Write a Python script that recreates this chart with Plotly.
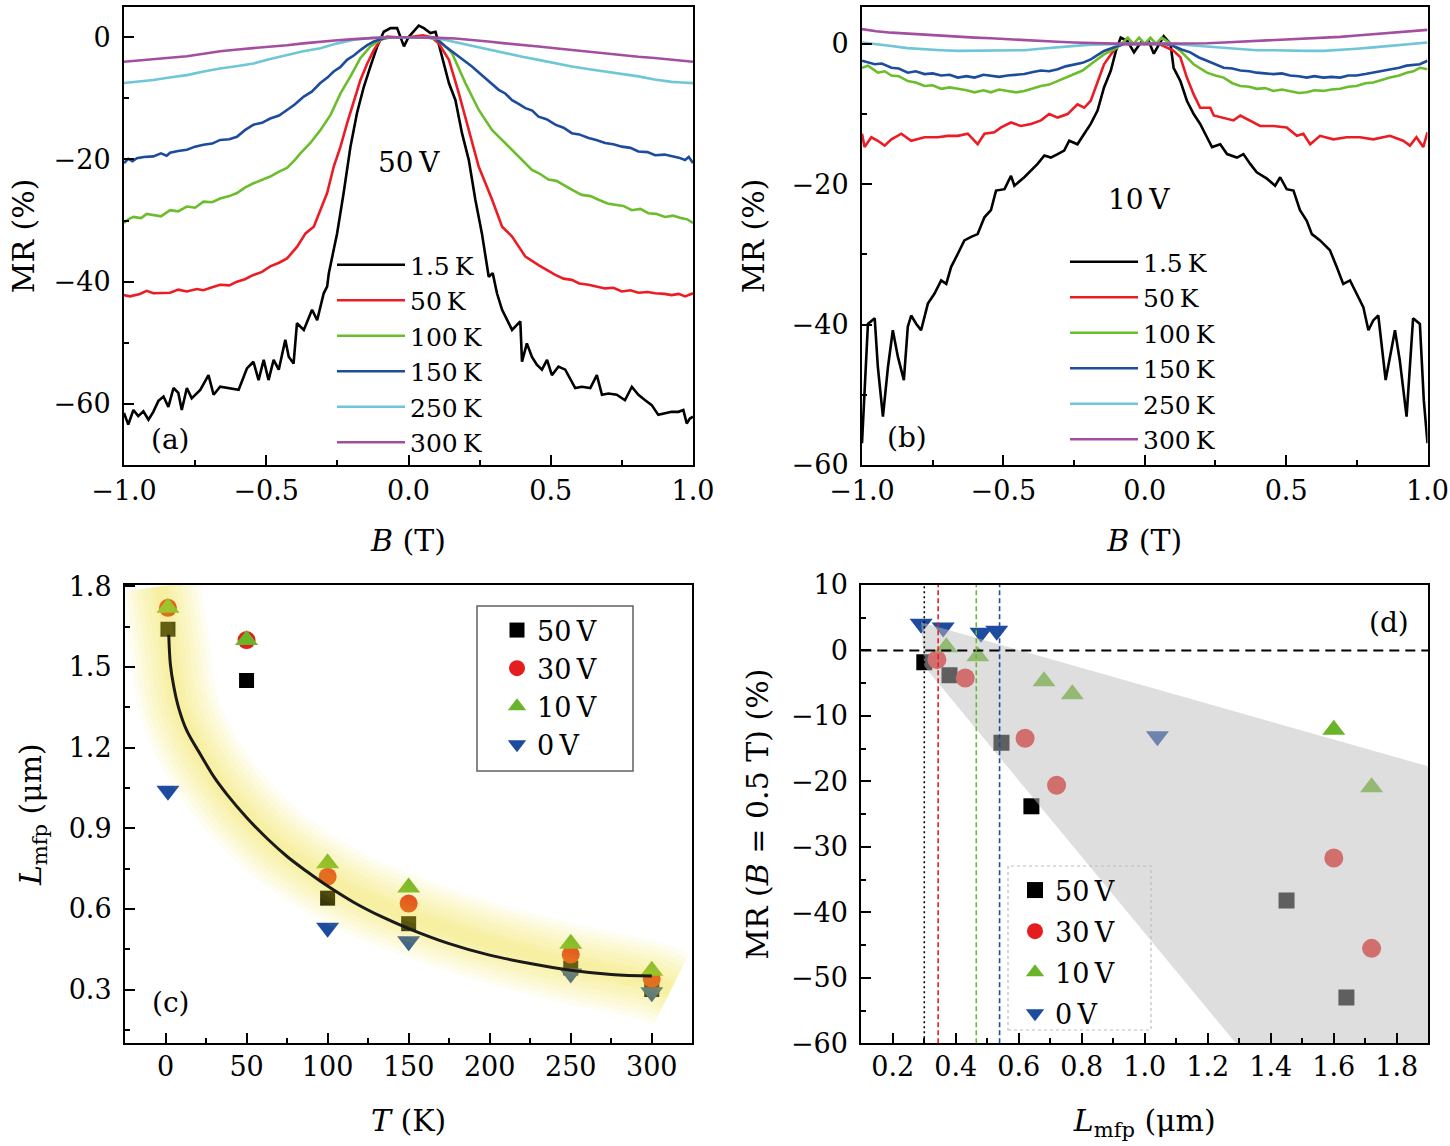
import plotly.graph_objects as go

# ---------------- data: panel (a) 50 V, MR vs B ----------------
a_1p5K = [(-1.0,-61.5),(-0.985,-63.4),(-0.967,-61.0),(-0.95,-62.0),(-0.932,-61.2),(-0.914,-62.6),(-0.897,-61.3),(-0.879,-59.5),(-0.861,-58.8),(-0.844,-60.5),(-0.826,-57.4),(-0.809,-58.2),(-0.797,-61.0),(-0.779,-57.4),(-0.762,-59.1),(-0.732,-57.7),(-0.703,-55.3),(-0.685,-58.5),(-0.662,-57.2),(-0.638,-57.4),(-0.597,-57.7),(-0.568,-54.2),(-0.545,-53.1),(-0.527,-56.1),(-0.509,-52.8),(-0.492,-56.1),(-0.474,-52.8),(-0.456,-54.4),(-0.433,-49.5),(-0.421,-52.3),(-0.404,-53.4),(-0.392,-46.8),(-0.368,-47.9),(-0.339,-44.6),(-0.321,-46.3),(-0.298,-41.9),(-0.286,-40.8),(-0.28,-38.6),(-0.251,-32.1),(-0.228,-25.5),(-0.204,-17.9),(-0.181,-12.4),(-0.157,-8.1),(-0.134,-4.8),(-0.11,-1.5),(-0.087,0.9),(-0.063,1.5),(-0.04,1.5),(-0.016,-1.5),(0.0,0.0),(0.013,0.7),(0.036,1.9),(0.054,1.5),(0.077,0.7),(0.095,0.9),(0.118,-3.2),(0.142,-7.5),(0.165,-10.3),(0.188,-15.7),(0.212,-20.1),(0.235,-26.6),(0.258,-32.1),(0.282,-39.2),(0.296,-38.6),(0.311,-41.9),(0.329,-44.6),(0.34,-45.7),(0.364,-47.9),(0.393,-46.5),(0.399,-53.1),(0.416,-50.1),(0.434,-52.3),(0.451,-53.6),(0.469,-54.4),(0.487,-52.8),(0.504,-55.3),(0.527,-53.9),(0.551,-54.4),(0.586,-57.4),(0.609,-57.2),(0.639,-57.4),(0.662,-55.3),(0.68,-58.5),(0.703,-58.3),(0.732,-58.5),(0.761,-59.4),(0.785,-57.2),(0.808,-58.5),(0.832,-59.4),(0.855,-60.2),(0.878,-61.8),(0.902,-61.5),(0.925,-61.3),(0.949,-61.3),(0.966,-61.0),(0.978,-63.2),(0.989,-62.4),(1.0,-62.1)]
a_50K = [(-1.0,-42.2),(-0.979,-42.4),(-0.944,-42.0),(-0.92,-41.5),(-0.897,-41.9),(-0.838,-41.8),(-0.809,-41.3),(-0.779,-41.6),(-0.744,-41.2),(-0.721,-41.4),(-0.69,-40.9),(-0.662,-40.5),(-0.63,-40.6),(-0.603,-40.0),(-0.575,-39.6),(-0.545,-38.9),(-0.515,-38.4),(-0.486,-37.5),(-0.455,-36.9),(-0.427,-36.2),(-0.392,-34.3),(-0.362,-32.1),(-0.333,-31.0),(-0.31,-28.3),(-0.286,-25.5),(-0.263,-21.2),(-0.239,-17.9),(-0.216,-14.1),(-0.192,-10.3),(-0.169,-7.0),(-0.145,-4.3),(-0.122,-2.1),(-0.098,-0.4),(-0.075,0.1),(-0.04,0.0),(0.0,0.0),(0.05,0.3),(0.08,0.0),(0.106,-1.0),(0.142,-3.7),(0.177,-9.2),(0.212,-15.2),(0.247,-21.2),(0.294,-26.6),(0.329,-31.0),(0.364,-32.6),(0.411,-35.9),(0.457,-37.3),(0.516,-38.9),(0.545,-39.5),(0.574,-39.7),(0.6,-40.3),(0.633,-40.5),(0.66,-40.8),(0.691,-41.1),(0.72,-41.0),(0.75,-41.6),(0.78,-41.4),(0.808,-41.8),(0.84,-41.7),(0.867,-41.9),(0.9,-42.0),(0.925,-42.2),(0.95,-42.0),(0.972,-42.4),(1.0,-41.9)]
a_100K = [(-1.0,-30.4),(-0.985,-29.8),(-0.967,-29.4),(-0.94,-29.6),(-0.92,-28.9),(-0.897,-29.1),(-0.87,-29.3),(-0.838,-28.3),(-0.81,-28.5),(-0.779,-27.7),(-0.75,-27.9),(-0.721,-26.9),(-0.69,-27.0),(-0.662,-26.4),(-0.63,-26.0),(-0.603,-25.5),(-0.575,-24.6),(-0.545,-23.9),(-0.515,-23.3),(-0.486,-22.8),(-0.455,-22.0),(-0.427,-21.4),(-0.40,-20.1),(-0.38,-19.0),(-0.345,-17.3),(-0.31,-15.2),(-0.274,-12.7),(-0.239,-9.2),(-0.204,-6.4),(-0.169,-3.4),(-0.134,-1.5),(-0.098,-0.4),(-0.063,0.0),(0.0,0.0),(0.06,0.0),(0.106,-0.4),(0.153,-2.6),(0.2,-7.5),(0.247,-11.9),(0.294,-15.2),(0.34,-17.3),(0.387,-19.5),(0.434,-21.7),(0.46,-22.3),(0.492,-23.3),(0.52,-23.5),(0.551,-24.4),(0.58,-25.1),(0.609,-25.8),(0.64,-26.0),(0.668,-26.6),(0.7,-27.2),(0.726,-27.4),(0.755,-27.6),(0.785,-28.3),(0.815,-28.1),(0.843,-28.8),(0.87,-28.9),(0.902,-29.4),(0.93,-29.2),(0.96,-29.6),(0.98,-29.8),(1.0,-30.4)]
a_150K = [(-1.0,-20.6),(-0.985,-19.9),(-0.97,-20.3),(-0.955,-19.8),(-0.93,-19.6),(-0.897,-19.5),(-0.87,-19.0),(-0.85,-19.4),(-0.838,-18.9),(-0.81,-18.6),(-0.779,-18.4),(-0.75,-17.9),(-0.721,-17.6),(-0.69,-17.4),(-0.662,-16.8),(-0.63,-16.7),(-0.603,-16.3),(-0.575,-15.2),(-0.545,-14.3),(-0.515,-14.0),(-0.486,-13.3),(-0.455,-12.8),(-0.427,-11.9),(-0.40,-11.0),(-0.368,-9.7),(-0.34,-8.9),(-0.31,-7.5),(-0.285,-6.6),(-0.263,-5.6),(-0.24,-4.9),(-0.216,-3.7),(-0.19,-2.9),(-0.169,-2.1),(-0.145,-1.3),(-0.122,-0.7),(-0.075,0.0),(0.0,0.0),(0.09,0.0),(0.13,-1.5),(0.155,-2.4),(0.177,-3.2),(0.2,-3.9),(0.223,-4.8),(0.245,-5.7),(0.27,-6.7),(0.295,-7.8),(0.317,-8.6),(0.34,-9.2),(0.364,-10.3),(0.387,-10.9),(0.411,-11.6),(0.435,-12.0),(0.457,-13.0),(0.485,-13.4),(0.516,-14.3),(0.545,-14.8),(0.574,-15.7),(0.6,-15.9),(0.633,-16.5),(0.66,-16.8),(0.691,-17.3),(0.72,-17.5),(0.75,-17.9),(0.78,-18.1),(0.808,-18.7),(0.84,-18.8),(0.867,-19.3),(0.9,-19.2),(0.925,-19.5),(0.95,-19.7),(0.972,-20.1),(0.985,-19.6),(1.0,-20.6)]
a_250K = [(-1.0,-7.5),(-0.95,-7.3),(-0.897,-7.0),(-0.84,-6.6),(-0.779,-6.2),(-0.72,-5.6),(-0.662,-5.1),(-0.6,-4.7),(-0.545,-4.3),(-0.49,-3.6),(-0.427,-2.9),(-0.37,-2.3),(-0.31,-1.8),(-0.25,-1.0),(-0.192,-0.4),(-0.13,-0.1),(-0.075,0.0),(0.0,0.0),(0.05,0.0),(0.106,-0.2),(0.165,-0.8),(0.223,-1.5),(0.28,-2.0),(0.34,-2.6),(0.4,-3.2),(0.457,-3.7),(0.515,-4.3),(0.574,-4.8),(0.63,-5.2),(0.691,-5.6),(0.75,-6.0),(0.808,-6.4),(0.865,-6.9),(0.925,-7.3),(0.96,-7.4),(1.0,-7.5)]
a_300K = [(-1.0,-4.0),(-0.95,-3.8),(-0.897,-3.6),(-0.84,-3.4),(-0.779,-3.1),(-0.72,-2.7),(-0.662,-2.3),(-0.6,-2.0),(-0.545,-1.8),(-0.49,-1.5),(-0.427,-1.3),(-0.37,-1.0),(-0.31,-0.7),(-0.25,-0.5),(-0.192,-0.3),(-0.13,-0.1),(-0.075,0.0),(0.0,0.0),(0.05,0.0),(0.106,-0.1),(0.165,-0.2),(0.223,-0.4),(0.28,-0.7),(0.34,-1.0),(0.4,-1.2),(0.457,-1.5),(0.515,-1.8),(0.574,-2.1),(0.63,-2.3),(0.691,-2.6),(0.75,-2.9),(0.808,-3.2),(0.865,-3.4),(0.925,-3.7),(0.96,-3.8),(1.0,-4.0)]

# ---------------- data: panel (b) 10 V, MR vs B ----------------
b_1p5K = [(-1.0,-56.9),(-0.993,-50.8),(-0.979,-39.9),(-0.955,-39.1),(-0.944,-46.0),(-0.926,-53.1),(-0.908,-46.0),(-0.891,-40.8),(-0.873,-44.6),(-0.852,-47.9),(-0.838,-40.3),(-0.826,-38.7),(-0.808,-39.9),(-0.791,-40.8),(-0.767,-37.0),(-0.744,-35.6),(-0.72,-33.7),(-0.702,-34.2),(-0.685,-31.8),(-0.661,-29.9),(-0.638,-28.0),(-0.614,-27.5),(-0.591,-27.1),(-0.567,-24.7),(-0.544,-23.7),(-0.526,-20.9),(-0.496,-20.7),(-0.473,-18.8),(-0.461,-20.2),(-0.426,-19.0),(-0.402,-18.1),(-0.379,-17.1),(-0.355,-15.9),(-0.332,-16.2),(-0.308,-15.7),(-0.285,-15.2),(-0.267,-13.8),(-0.238,-14.3),(-0.214,-12.8),(-0.191,-11.4),(-0.167,-9.5),(-0.144,-6.2),(-0.12,-3.8),(-0.102,-1.0),(-0.085,0.9),(-0.061,0.4),(-0.038,-1.2),(-0.014,0.2),(0.0,0.0),(0.015,0.3),(0.032,-1.4),(0.05,0.0),(0.067,1.1),(0.091,0.0),(0.102,-3.4),(0.126,-5.3),(0.149,-8.1),(0.173,-10.0),(0.196,-11.4),(0.22,-13.3),(0.238,-14.7),(0.267,-14.3),(0.291,-15.7),(0.326,-16.2),(0.349,-15.7),(0.373,-17.1),(0.396,-18.3),(0.432,-19.2),(0.461,-20.2),(0.479,-19.0),(0.502,-20.7),(0.526,-20.9),(0.549,-23.7),(0.573,-25.2),(0.591,-27.1),(0.62,-28.0),(0.655,-29.4),(0.679,-31.8),(0.702,-34.2),(0.726,-33.7),(0.749,-35.6),(0.773,-37.5),(0.791,-40.8),(0.808,-39.4),(0.826,-38.7),(0.852,-47.9),(0.885,-40.8),(0.902,-45.1),(0.926,-53.1),(0.949,-39.1),(0.973,-39.9),(0.987,-50.8),(1.0,-56.9)]
b_50K = [(-1.0,-12.8),(-0.991,-14.7),(-0.967,-13.3),(-0.944,-13.8),(-0.92,-14.5),(-0.896,-13.6),(-0.861,-12.8),(-0.826,-13.8),(-0.779,-13.3),(-0.732,-13.3),(-0.696,-13.1),(-0.661,-13.1),(-0.626,-12.8),(-0.591,-14.3),(-0.567,-12.8),(-0.532,-12.6),(-0.508,-11.9),(-0.473,-11.2),(-0.438,-11.7),(-0.402,-11.4),(-0.367,-10.9),(-0.338,-10.0),(-0.308,-10.5),(-0.273,-10.0),(-0.238,-8.6),(-0.214,-9.1),(-0.191,-8.1),(-0.167,-5.3),(-0.144,-2.9),(-0.12,-1.5),(-0.096,-0.3),(-0.073,0.0),(0.0,0.0),(0.05,0.0),(0.102,-1.0),(0.126,-1.9),(0.149,-4.8),(0.173,-7.2),(0.196,-9.1),(0.232,-9.1),(0.244,-10.2),(0.279,-10.5),(0.314,-10.9),(0.338,-10.2),(0.373,-10.9),(0.408,-11.7),(0.455,-11.7),(0.502,-11.9),(0.538,-13.1),(0.561,-12.8),(0.585,-14.3),(0.62,-13.1),(0.667,-13.6),(0.714,-13.3),(0.761,-13.3),(0.808,-13.6),(0.867,-13.1),(0.914,-13.8),(0.938,-14.5),(0.961,-13.3),(0.985,-14.7),(1.0,-12.6)]
b_100K = [(-1.0,-3.4),(-0.979,-3.1),(-0.944,-4.1),(-0.92,-3.9),(-0.896,-4.5),(-0.87,-4.6),(-0.838,-5.3),(-0.81,-5.5),(-0.779,-6.0),(-0.75,-5.9),(-0.72,-6.4),(-0.69,-6.2),(-0.661,-6.4),(-0.63,-6.6),(-0.602,-6.9),(-0.57,-6.6),(-0.544,-6.9),(-0.515,-6.5),(-0.485,-6.7),(-0.455,-6.9),(-0.426,-6.7),(-0.395,-6.3),(-0.367,-6.0),(-0.338,-5.8),(-0.308,-5.3),(-0.28,-4.9),(-0.249,-4.3),(-0.22,-3.8),(-0.191,-2.9),(-0.144,-1.5),(-0.096,-0.5),(-0.06,0.9),(-0.04,0.0),(-0.02,0.9),(0.0,0.0),(0.02,0.9),(0.04,0.0),(0.06,0.9),(0.079,0.4),(0.126,-1.0),(0.173,-2.9),(0.22,-4.1),(0.25,-4.5),(0.279,-4.8),(0.31,-5.6),(0.338,-6.0),(0.37,-6.1),(0.396,-6.4),(0.425,-6.3),(0.455,-6.7),(0.485,-6.5),(0.514,-6.7),(0.545,-7.0),(0.573,-6.9),(0.6,-6.6),(0.632,-6.7),(0.66,-6.5),(0.691,-6.4),(0.72,-6.1),(0.749,-6.0),(0.78,-5.6),(0.808,-5.5),(0.84,-5.1),(0.867,-4.8),(0.9,-4.5),(0.926,-4.1),(0.95,-3.9),(0.973,-3.4),(1.0,-3.6)]
b_150K = [(-1.0,-2.4),(-0.98,-2.6),(-0.955,-2.9),(-0.93,-2.8),(-0.896,-3.4),(-0.87,-3.5),(-0.838,-4.1),(-0.81,-3.9),(-0.779,-4.3),(-0.75,-4.2),(-0.72,-4.5),(-0.69,-4.4),(-0.661,-4.8),(-0.63,-4.6),(-0.602,-4.8),(-0.57,-4.4),(-0.544,-4.5),(-0.515,-4.7),(-0.485,-4.5),(-0.455,-4.4),(-0.426,-4.3),(-0.395,-4.0),(-0.367,-3.8),(-0.338,-3.9),(-0.308,-3.6),(-0.28,-3.2),(-0.249,-2.9),(-0.22,-2.7),(-0.191,-2.2),(-0.144,-1.0),(-0.096,-0.3),(-0.073,0.0),(0.0,0.0),(0.07,0.0),(0.102,-0.3),(0.13,-0.8),(0.161,-1.2),(0.19,-1.9),(0.22,-2.4),(0.25,-2.9),(0.279,-3.4),(0.31,-3.5),(0.338,-3.8),(0.37,-3.9),(0.396,-4.1),(0.425,-4.2),(0.455,-4.3),(0.485,-4.2),(0.514,-4.5),(0.545,-4.6),(0.573,-4.8),(0.6,-4.6),(0.632,-4.8),(0.66,-4.7),(0.691,-4.8),(0.72,-4.5),(0.749,-4.5),(0.78,-4.3),(0.808,-4.1),(0.84,-3.9),(0.867,-3.6),(0.9,-3.4),(0.926,-3.1),(0.95,-3.0),(0.973,-2.9),(1.0,-2.4)]
b_250K = [(-1.0,0.2),(-0.95,0.0),(-0.896,-0.3),(-0.84,-0.6),(-0.779,-0.8),(-0.72,-0.9),(-0.661,-1.0),(-0.6,-1.0),(-0.544,-1.0),(-0.485,-1.0),(-0.426,-0.9),(-0.37,-0.7),(-0.308,-0.5),(-0.25,-0.3),(-0.191,-0.1),(-0.073,0.0),(0.0,0.0),(0.102,0.0),(0.16,-0.2),(0.22,-0.4),(0.28,-0.6),(0.338,-0.8),(0.396,-0.9),(0.455,-0.9),(0.515,-1.0),(0.573,-1.0),(0.632,-1.0),(0.691,-0.9),(0.75,-0.7),(0.808,-0.5),(0.867,-0.3),(0.926,0.0),(0.96,0.1),(1.0,0.2)]
b_300K = [(-1.0,2.1),(-0.95,1.8),(-0.896,1.6),(-0.84,1.45),(-0.779,1.3),(-0.72,1.15),(-0.661,1.0),(-0.6,0.9),(-0.544,0.8),(-0.485,0.65),(-0.426,0.5),(-0.37,0.4),(-0.308,0.3),(-0.25,0.2),(-0.191,0.1),(-0.073,0.0),(0.0,0.0),(0.102,0.0),(0.16,0.05),(0.22,0.1),(0.28,0.2),(0.338,0.3),(0.396,0.45),(0.455,0.6),(0.515,0.7),(0.573,0.8),(0.632,0.9),(0.691,1.0),(0.75,1.2),(0.808,1.4),(0.867,1.6),(0.926,1.8),(0.96,1.9),(1.0,2.0)]

curve_names = ["1.5\u2009K", "50\u2009K", "100\u2009K", "150\u2009K", "250\u2009K", "300\u2009K"]
curve_colors = ["#000000", "#EC1C24", "#6CBD2C", "#1D4B9E", "#6EC6D6", "#A44EA0"]

# ---------------- data: panel (c) L_mfp vs T ----------------
T_K = [1.5, 50, 100, 150, 250, 300]
T_K_0V = [1.5, 100, 150, 250, 300]
L_50V = [1.64, 1.45, 0.64, 0.545, 0.38, 0.30]
L_30V = [1.72, 1.60, 0.72, 0.62, 0.43, 0.34]
L_10V = [1.72, 1.60, 0.77, 0.68, 0.47, 0.37]
L_0V = [1.04, 0.53, 0.48, 0.36, 0.29]
fit_T = [2, 3, 5, 8, 13, 22, 30, 38, 50, 63, 75, 87, 100, 116, 133, 150, 175, 200, 225, 250, 275, 300]
fit_L = [1.62, 1.51, 1.43, 1.35, 1.265, 1.17, 1.09, 1.025, 0.94, 0.86, 0.795, 0.74, 0.685, 0.625, 0.572, 0.527, 0.471, 0.428, 0.397, 0.372, 0.356, 0.35]
glow_T = [-3, 2, 8, 22, 38, 63, 87, 116, 150, 200, 250, 300, 312]
glow_L = [1.80, 1.6, 1.36, 1.17, 1.03, 0.87, 0.76, 0.66, 0.575, 0.475, 0.395, 0.33, 0.30]

# ---------------- data: panel (d) MR(B=0.5T) vs L_mfp (ordered by T as in (c)) ----------------
MR_50V = [-53.0, -38.2, -23.8, -14.1, -3.8, -1.8]
MR_30V = [-45.5, -31.7, -20.6, -13.4, -4.2, -1.4]
MR_10V = [-20.9, -12.1, -6.7, -4.7, -0.9, 0.5]
MR_0V = [-13.1, 3.0, 2.7, 3.5, 4.1]
zone_L = [0.29, 1.9, 1.9, 1.289, 0.30, 0.29]
zone_MR = [4.3, -17.7, -60, -60, -2.4, 4.3]
vline_L = [0.30, 0.344, 0.465, 0.539]
vline_colors = ["#000000", "#EC1C24", "#6CBD2C", "#1D4B9E"]
vline_dash = ["2px,3px", "5px,3px", "5px,3px", "5px,3px"]
zero_MR = 0

series_names = ["50\u2009V", "30\u2009V", "10\u2009V", "0\u2009V"]
series_colors = ["#000000", "#E41E1E", "#6AB42A", "#1D4B9F"]
series_symbols = ["square", "circle", "triangle-up", "triangle-down"]

# ---------------- figure ----------------
W, H = 1450, 1146
FONT = "DejaVu Serif"
def px(x): return x / W
def py(y): return 1 - y / H

fig = go.Figure()

for pts, name, col in zip([a_1p5K, a_50K, a_100K, a_150K, a_250K, a_300K], curve_names, curve_colors):
    B, MR = zip(*pts)
    fig.add_trace(go.Scatter(x=B, y=MR, mode="lines", name=name, line=dict(color=col, width=2.6),
                             xaxis="x", yaxis="y", legend="legend"))
for pts, name, col in zip([b_1p5K, b_50K, b_100K, b_150K, b_250K, b_300K], curve_names, curve_colors):
    B, MR = zip(*pts)
    fig.add_trace(go.Scatter(x=B, y=MR, mode="lines", name=name, line=dict(color=col, width=2.6),
                             xaxis="x2", yaxis="y2", legend="legend2"))

# panel (c)
c_sizes = [15, 18, 20, 20]
for T, L, name, col, sym, sz in zip([T_K, T_K, T_K, T_K_0V], [L_50V, L_30V, L_10V, L_0V],
                                    series_names, series_colors, series_symbols, c_sizes):
    fig.add_trace(go.Scatter(x=T, y=L, mode="markers", name=name,
                             marker=dict(symbol=sym, size=sz, color=col, line=dict(width=0)),
                             xaxis="x3", yaxis="y3", legend="legend3"))
for w in [80, 70, 60, 50, 40, 30, 20, 12]:
    fig.add_trace(go.Scatter(x=glow_T, y=glow_L, mode="lines", showlegend=False, hoverinfo="skip",
                             line=dict(color="rgba(242,224,45,0.068)", width=w, shape="spline"),
                             xaxis="x3", yaxis="y3"))
fig.add_trace(go.Scatter(x=fit_T, y=fit_L, mode="lines", showlegend=False,
                         line=dict(color="#1a1a1a", width=3, shape="spline"), xaxis="x3", yaxis="y3"))

# panel (d)
d_sizes = [16, 19, 20, 20]
for L, MR, name, col, sym, sz in zip([L_50V, L_30V, L_10V, L_0V], [MR_50V, MR_30V, MR_10V, MR_0V],
                                     series_names, series_colors, series_symbols, d_sizes):
    fig.add_trace(go.Scatter(x=L, y=MR, mode="markers", name=name, legendgroup="d" + name,
                             marker=dict(symbol=sym, size=sz, color=col, line=dict(width=0)),
                             xaxis="x4", yaxis="y4", legend="legend4"))
fig.add_trace(go.Scatter(x=zone_L, y=zone_MR, mode="lines", fill="toself", showlegend=False,
                         fillcolor="rgba(189,189,189,0.5)", line=dict(width=0), hoverinfo="skip",
                         xaxis="x4", yaxis="y4"))

shapes = [dict(type="line", xref="x4 domain", x0=0, x1=1, yref="y4", y0=zero_MR, y1=zero_MR,
               line=dict(color="black", width=2, dash="10px,6px"))]
for L, col, dsh in zip(vline_L, vline_colors, vline_dash):
    shapes.append(dict(type="line", xref="x4", x0=L, x1=L, yref="y4 domain", y0=0, y1=1,
                       line=dict(color=col, width=1.6, dash=dsh)))
# legend frames
shapes.append(dict(type="rect", xref="paper", yref="paper", x0=px(477), x1=px(633), y0=py(771), y1=py(606),
                   line=dict(color="#606060", width=1.5), fillcolor="white", layer="above"))
shapes.append(dict(type="rect", xref="paper", yref="paper", x0=px(1008), x1=px(1151), y0=py(1030), y1=py(866),
                   line=dict(color="#BDBDBD", width=1.2, dash="dot")))

tickfont = dict(family=FONT, size=27, color="black")
titlefont = dict(family=FONT, size=30, color="black")

def axis(domain, rng, dtick, tick0, mdtick, anchor, title, standoff, lab_off, fmt=None):
    d = dict(domain=domain, range=rng, anchor=anchor, dtick=dtick, tick0=tick0, automargin=False,
             showline=True, linecolor="black", linewidth=2, mirror=True,
             ticks="inside", ticklen=10, tickwidth=2, tickcolor="black",
             showgrid=False, zeroline=False, tickfont=tickfont, ticklabelstandoff=lab_off,
             minor=dict(dtick=mdtick, tick0=tick0, ticks="inside", ticklen=5, tickwidth=1.5,
                        tickcolor="black", showgrid=False),
             title=dict(text=title, font=titlefont, standoff=standoff))
    if fmt:
        d["tickformat"] = fmt
    return d

xa = [px(124), px(693)]
xb = [px(862), px(1427.5)]
xc = [px(125), px(692.3)]
xd = [px(861.3), px(1428.3)]
ytop = [py(465), py(6.7)]
ybot = [py(1043.3), py(585)]

B_title = "<i>B</i> (T)"
fig.update_layout(
    xaxis=axis(xa, [-1, 1], 0.5, 0, 0.25, "y", B_title, 25, 1, ".1f"),
    yaxis=axis(ytop, [-70, 5], 20, 0, 10, "x", "MR (%)", 10, 6),
    xaxis2=axis(xb, [-1, 1], 0.5, 0, 0.25, "y2", B_title, 25, 1, ".1f"),
    yaxis2=axis(ytop, [-60, 5.3], 20, 0, 10, "x2", "MR (%)", 18, 6),
    xaxis3=axis(xc, [-25, 325], 50, 0, 25, "y3", "<i>T</i> (K)", 29, -2),
    yaxis3=axis(ybot, [0.1, 1.805], 0.3, 0.3, 0.15, "x3", "<i>L</i><sub>mfp</sub> (μm)", 18, 6, ".1f"),
    xaxis4=axis(xd, [0.1, 1.9], 0.2, 0.2, 0.1, "y4", "<i>L</i><sub>mfp</sub> (μm)", 29, -2, ".1f"),
    yaxis4=axis(ybot, [-60, 10], 10, 0, 5, "x4", "MR (<i>B</i> = 0.5 T) (%)", 13, 6),
)

leg_common = dict(bgcolor="rgba(0,0,0,0)", borderwidth=0, xanchor="left", yanchor="top",
                  itemclick=False, itemdoubleclick=False)
fig.update_layout(
    width=W, height=H, margin=dict(l=0, r=0, t=0, b=0, pad=0, autoexpand=False),
    paper_bgcolor="white", plot_bgcolor="white",
    font=dict(family=FONT, size=24, color="black"),
    showlegend=True,
    legend=dict(x=px(332), y=py(242), font=dict(family=FONT, size=25), itemwidth=68, **leg_common),
    legend2=dict(x=px(1065), y=py(239), font=dict(family=FONT, size=25), itemwidth=68, **leg_common),
    legend3=dict(x=px(497), y=py(606), font=dict(family=FONT, size=27), **leg_common),
    legend4=dict(x=px(1015), y=py(866), font=dict(family=FONT, size=27), tracegroupgap=3, **leg_common),
    shapes=shapes,
)

ann_font = dict(family=FONT, size=28, color="black")
annotations = [
    dict(text="50\u2009V", xref="x domain", yref="y domain", x=0.5, y=0.659),
    dict(text="(a)", xref="x domain", yref="y domain", x=0.081, y=0.055),
    dict(text="10\u2009V", xref="x2 domain", yref="y2 domain", x=0.49, y=0.579),
    dict(text="(b)", xref="x2 domain", yref="y2 domain", x=0.08, y=0.061),
    dict(text="(c)", xref="x3 domain", yref="y3 domain", x=0.081, y=0.09),
    dict(text="(d)", xref="x4 domain", yref="y4 domain", x=0.93, y=0.919),
]
for a in annotations:
    a.update(showarrow=False, font=ann_font, xanchor="center", yanchor="middle")
fig.update_layout(annotations=annotations)

fig.write_html("out.html")
